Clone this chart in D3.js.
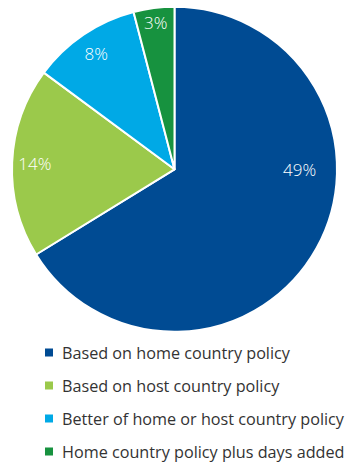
<!DOCTYPE html>
<html><head><meta charset="utf-8">
<script src="https://cdn.jsdelivr.net/npm/d3@7"></script>
<style>
html,body{margin:0;padding:0;background:#fff;}
svg{display:block;}
</style></head>
<body>
<svg id="chart" width="347" height="466"></svg>
<script>
const categories = [
  "Based on home country policy",
  "Based on host country policy",
  "Better of home or host country policy",
  "Home country policy plus days added"
];
const values = [49, 14, 8, 3];
const valueLabels = ["49%", "14%", "8%", "3%"];
const colors = ["#004B93", "#9BC94B", "#00A9E6", "#17923F"];

const svg = d3.select("#chart");
const cx = 174.5, cy = 169.3, r = 162.5;
const font = "'Open Sans', sans-serif";

const pie = d3.pie().sort(null).value(d => d)(values);
const arc = d3.arc().innerRadius(0).outerRadius(r);
const g = svg.append("g").attr("transform", `translate(${cx},${cy})`);

g.selectAll("path").data(pie).join("path")
  .attr("d", arc)
  .attr("fill", (d, i) => colors[i])
  .attr("stroke", "#fff")
  .attr("stroke-width", 2)
  .attr("stroke-linejoin", "round");

// label placement: largest slice label sits at 3 o'clock, others near rim
function labelPos(d, i) {
  let a = (d.startAngle + d.endAngle) / 2;
  let f = 0.86;
  if (i === 0) { a = Math.PI / 2; f = 0.77; }
  if (i === 3) { f = 0.91; }
  return [Math.sin(a) * r * f, -Math.cos(a) * r * f];
}

g.selectAll("text.lab").data(pie).join("text")
  .attr("class", "lab")
  .attr("x", (d, i) => labelPos(d, i)[0])
  .attr("y", (d, i) => labelPos(d, i)[1])
  .attr("text-anchor", "middle")
  .attr("dominant-baseline", "central")
  .attr("fill", "#fff")
  .attr("font-family", font)
  .attr("font-weight", 300)
  .attr("font-size", 17)
  .text((d, i) => valueLabels[i]);

const legendY = d3.scalePoint().domain(categories).range([352.5, 451.5]);
const lg = svg.append("g");
const rows = lg.selectAll("g").data(categories).join("g")
  .attr("transform", d => `translate(0,${legendY(d)})`);
rows.append("rect")
  .attr("x", 45).attr("y", -4).attr("width", 8).attr("height", 8)
  .attr("fill", (d, i) => colors[i]);
rows.append("text")
  .attr("x", 62).attr("y", 0)
  .attr("dominant-baseline", "central")
  .attr("fill", "#333")
  .attr("font-family", font)
  .attr("font-size", 16.2)
  .text(d => d);
</script>
</body></html>
